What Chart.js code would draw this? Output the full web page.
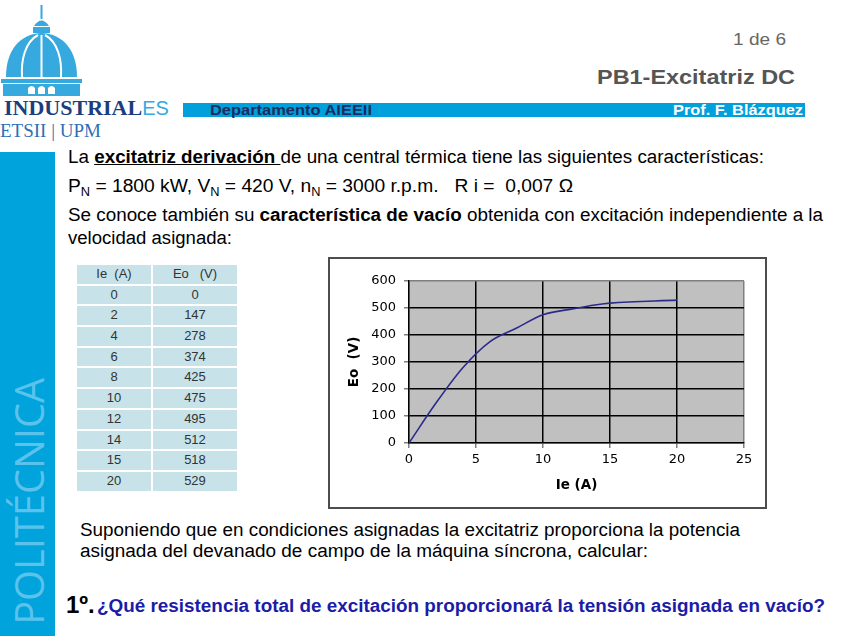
<!DOCTYPE html>
<html>
<head>
<meta charset="utf-8">
<script src="https://cdn.jsdelivr.net/npm/chart.js@4.4.1/dist/chart.umd.min.js"></script>
<style>
  html,body{margin:0;padding:0;background:#fff;}
  #page{position:relative;width:848px;height:636px;overflow:hidden;background:#fff;font-family:"Liberation Sans",Arial,sans-serif;}
  .t{position:absolute;white-space:nowrap;transform-origin:0 0;}
  .body{font-size:18px;line-height:18px;color:#000;}
  sub{font-size:12px;vertical-align:-4px;line-height:0;}
  #tbl{position:absolute;left:77px;top:265px;display:grid;grid-template-columns:74px 84px;column-gap:2px;row-gap:2px;grid-auto-rows:18.7px;}
  #tbl div{background:#c7e3e9;color:#333;font-size:13px;line-height:18.7px;text-align:center;white-space:pre;}
  #chartBox{position:absolute;left:328px;top:257px;width:435px;height:248px;border:2px solid #4d4d4d;background:#fff;}
  #side{position:absolute;left:0px;top:300px;writing-mode:vertical-rl;white-space:nowrap;font-family:'Open Sans',sans-serif;font-size:41px;line-height:normal;color:#5bc3eb;transform-origin:50% 50%;}
</style>
</head>
<body>
<div id="page">
  <!-- logo -->
  <svg style="position:absolute;left:0;top:0" width="90" height="100" viewBox="0 0 90 100">
    <g fill="#36a9df">
      <rect x="40.5" y="5" width="2" height="14"/>
      <path d="M34,26 Q41.5,15 49,26 Z"/>
      <rect x="33" y="27" width="17" height="6"/>
      <path d="M6,77 C6,50 20,34 41.5,33 C63,34 77,50 77,77 Z"/>
      <rect x="1" y="79" width="81" height="4"/>
      <rect x="3" y="84" width="77" height="12"/>
    </g>
    <g stroke="#fff" stroke-width="2" fill="none">
      <path d="M41.5,35 L41.5,77"/>
      <path d="M38,35 C25,42 21,60 22,77"/>
      <path d="M45,35 C58,42 62,60 61,77"/>
    </g>
    <g fill="#fff">
      <path d="M28,94 L28,88 Q31.5,84 35,88 L35,94 Z"/>
      <path d="M38,94 L38,88 Q41.5,84 45,88 L45,94 Z"/>
      <path d="M48,94 L48,88 Q51.5,84 55,88 L55,94 Z"/>
    </g>
  </svg>
  <div class="t" style="left:4px;top:97px;font-family:'Liberation Serif',serif;font-weight:bold;font-size:22px;line-height:22px;color:#1b3f7c;">INDUSTRIAL<span style="font-family:'Liberation Sans',sans-serif;font-weight:normal;font-size:20px;color:#36a9df;">ES</span></div>
  <div class="t" style="left:0px;top:121px;font-family:'Liberation Serif',serif;font-size:19px;line-height:19px;color:#2d6fb5;">ETSII | UPM</div>

  <!-- left sidebar -->
  <div style="position:absolute;left:0;top:152px;width:55px;height:484px;background:#00a3dc;"></div>
  <div id="side">POLITÉCNICA</div>

  <!-- header -->
  <div class="t fit" data-w="53" style="left:733px;top:31px;font-size:17px;line-height:17px;color:#666;">1 de 6</div>
  <div class="t fit" data-w="198" style="left:597px;top:66px;font-size:21px;line-height:21px;font-weight:bold;color:#555;">PB1-Excitatriz DC</div>
  <div style="position:absolute;left:183px;top:103px;width:622px;height:14px;background:#00a0dc;"></div>
  <div class="t fit" data-w="162" style="left:210px;top:103px;font-size:14px;line-height:14px;font-weight:bold;color:#1a2d5e;">Departamento AIEEII</div>
  <div class="t fit" data-w="130" style="left:673px;top:103px;font-size:14px;line-height:14px;font-weight:bold;color:#fff;">Prof. F. Blázquez</div>

  <!-- body text -->
  <div class="t body fit" data-w="696" style="left:68px;top:148px;">La <b><u>excitatriz derivación </u></b>de una central térmica tiene las siguientes características:</div>
  <div class="t body fit" data-w="505" style="left:68px;top:177px;">P<sub>N</sub> = 1800 kW, V<sub>N</sub> = 420 V, n<sub>N</sub> = 3000 r.p.m. &nbsp;&nbsp;R i = &nbsp;0,007 Ω</div>
  <div class="t body fit" data-w="755" style="left:68px;top:206px;">Se conoce también su <b>característica de vacío</b> obtenida con excitación independiente a la</div>
  <div class="t body fit" data-w="164" style="left:68px;top:229px;">velocidad asignada:</div>

  <div id="tbl"></div>

  <div id="chartBox"><canvas id="c" width="435" height="248"></canvas></div>

  <div class="t body fit" data-w="660" style="left:80px;top:521px;">Suponiendo que en condiciones asignadas la excitatriz proporciona la potencia</div>
  <div class="t body fit" data-w="568" style="left:80px;top:542px;">asignada del devanado de campo de la máquina síncrona, calcular:</div>

  <div class="t" style="left:66px;top:593px;font-size:24px;line-height:24px;font-weight:bold;color:#000;">1º.</div>
  <div class="t fit" data-w="728" style="left:97px;top:597px;font-size:18px;line-height:18px;font-weight:bold;color:#1c1ca6;">¿Qué resistencia total de excitación proporcionará la tensión asignada en vacío?</div>
</div>

<script>
// ---- data ----
const ieAmps  = [0, 2, 4, 6, 8, 10, 12, 14, 15, 20];
const eoVolts = [0, 147, 278, 374, 425, 475, 495, 512, 518, 529];
const tableHeaders = ['Ie  (A)', 'Eo   (V)'];
const xTickValues = [0, 5, 10, 15, 20, 25];
const yTickValues = [0, 100, 200, 300, 400, 500, 600];
const xAxisTitle = 'Ie (A)';
const yAxisTitle = 'Eo  (V)';

// ---- table ----
const tbl = document.getElementById('tbl');
function cell(txt){const d=document.createElement('div');d.textContent=txt;tbl.appendChild(d);}
cell(tableHeaders[0]); cell(tableHeaders[1]);
ieAmps.forEach((v,i)=>{cell(String(v)); cell(String(eoVolts[i]));});

// ---- fit text widths ----
document.querySelectorAll('.fit').forEach(el=>{
  const w = el.getBoundingClientRect().width;
  const target = parseFloat(el.dataset.w);
  el.style.transform = 'scaleX(' + (target/w) + ')';
});
// vertical sidebar word: centre at y=501, length 247
(function(){
  const s = document.getElementById('side');
  const h = s.getBoundingClientRect().height;
  s.style.top = (501.5 - h/2) + 'px';
  s.style.transform = 'rotate(180deg) scaleY(' + (247/h) + ')';
})();

// ---- chart ----
const plotBg = {
  id:'plotBg',
  beforeDraw(chart){
    const {ctx, chartArea:a} = chart;
    ctx.save(); ctx.fillStyle='#c0c0c0';
    ctx.fillRect(a.left, a.top, a.right-a.left, a.bottom-a.top);
    ctx.restore();
  }
};
const tickFont = {family:'DejaVu Sans', size:13};
const titleFont = {family:'DejaVu Sans', size:13.5, weight:'bold'};
const edgeColor = (min,max)=>c=>{const v=c.tick&&c.tick.value;return (v===min||v===max)?'#7f7f7f':'#000';};

new Chart(document.getElementById('c'), {
  type:'line',
  data:{datasets:[{
    data: ieAmps.map((x,i)=>({x:x, y:eoVolts[i]})),
    borderColor:'#2b2b8c', borderWidth:1.6, pointRadius:0, fill:false,
    cubicInterpolationMode:'monotone'
  }]},
  options:{
    responsive:false, animation:false,
    layout:{padding:{left:0, top:22, right:21, bottom:0}},
    plugins:{legend:{display:false}, tooltip:{enabled:false}},
    scales:{
      x:{
        type:'linear', min:0, max:25,
        afterBuildTicks: s=>{s.ticks = xTickValues.map(v=>({value:v}));},
        ticks:{color:'#000', font:tickFont, padding:4, maxRotation:0, autoSkip:false},
        grid:{color:edgeColor(0,25), lineWidth:1.5, tickLength:5, tickColor:'#7f7f7f'},
        border:{color:'#000', width:1.5},
        title:{display:true, text:xAxisTitle, color:'#000', font:titleFont, padding:{top:0,bottom:13}},
        afterFit: s=>{s.height=64;}
      },
      y:{
        type:'linear', min:0, max:600,
        afterBuildTicks: s=>{s.ticks = yTickValues.map(v=>({value:v}));},
        ticks:{color:'#000', font:tickFont, padding:8, autoSkip:false},
        grid:{color:edgeColor(0,600), lineWidth:1.5, tickLength:5, tickColor:'#7f7f7f'},
        border:{color:'#000', width:1.5},
        title:{display:true, text:yAxisTitle, color:'#000', font:titleFont, padding:{top:16,bottom:0}},
        afterFit: s=>{s.width=79;}
      }
    }
  },
  plugins:[plotBg]
});
</script>
</body>
</html>
